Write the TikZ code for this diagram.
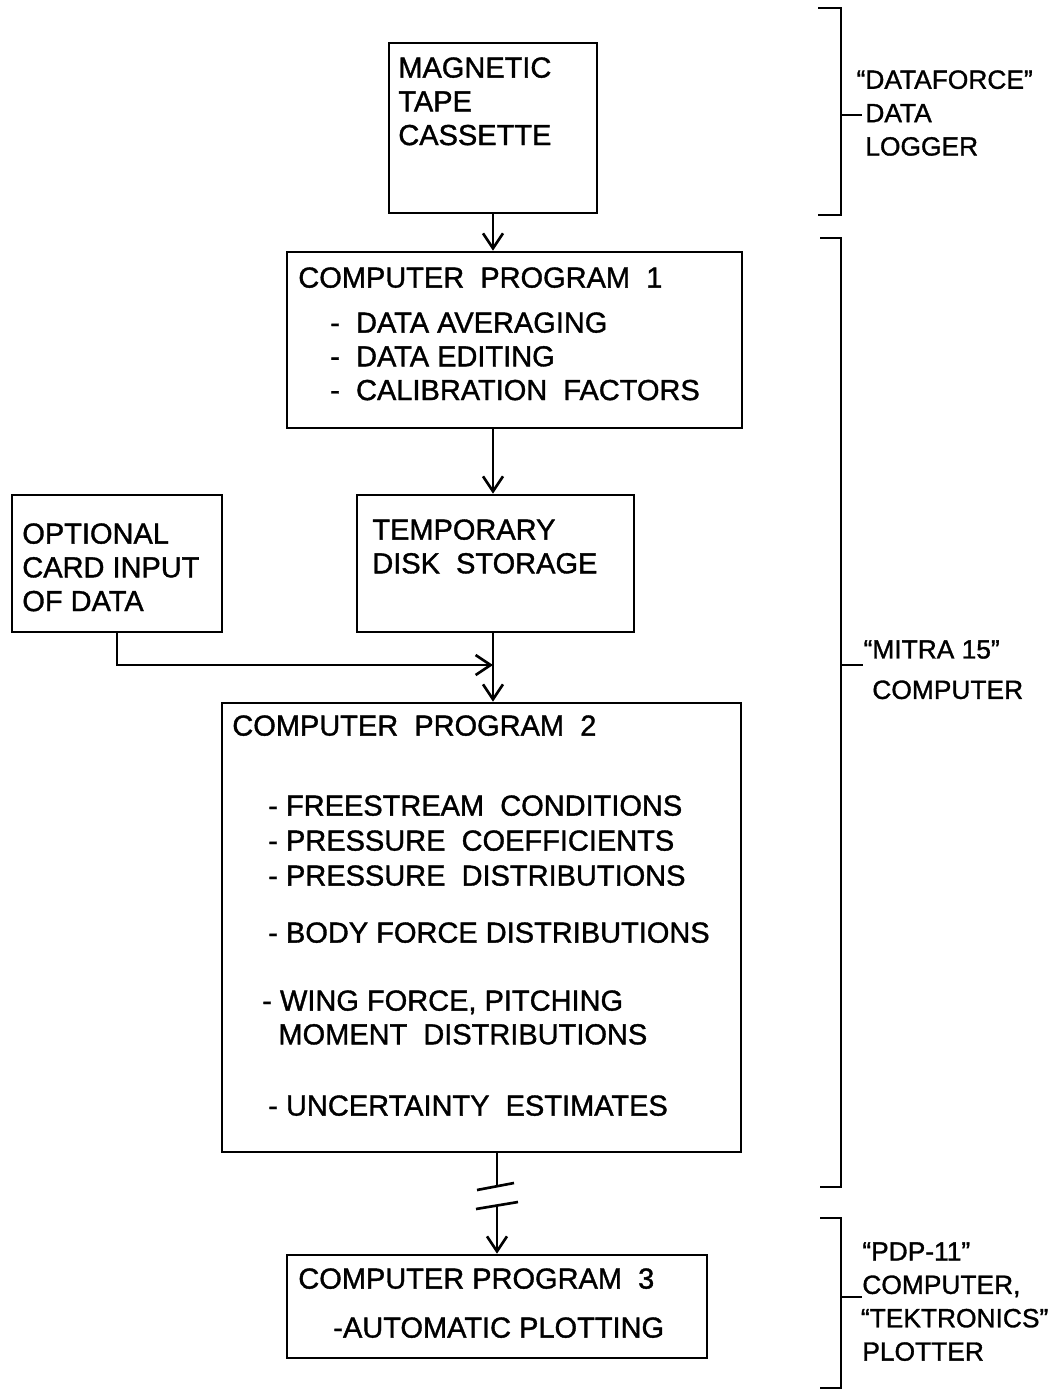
\documentclass[tikz,border=0pt]{standalone}
\usepackage{fontspec}
\setmainfont{Liberation Sans}[FakeBold=1.2]
\usetikzlibrary{arrows.meta}
\newcommand{\boxfont}{\fontsize{16.5}{19.2}\selectfont}
\newcommand{\sidefont}{\fontsize{15}{19}\selectfont}

\begin{document}
\begin{tikzpicture}[x=0.02cm, y=-0.02cm,
  box/.style={draw, line width=1.5pt, inner sep=0pt},
  txt/.style={anchor=north west, inner sep=0pt, align=left, font=\boxfont},
  side/.style={anchor=north west, inner sep=0pt, align=left, font=\sidefont},
  arr/.style={line width=1.5pt, -{Straight Barb[length=3mm, width=4mm]}},
  ln/.style={line width=1.5pt},
  brkt/.style={line width=1.5pt}]
  \useasboundingbox (0,0) rectangle (1056,1390);

  \node[box, minimum width=4.16cm, minimum height=3.4cm] (tape) at (493,128) {};
  \node[box, minimum width=9.1cm, minimum height=3.52cm] (cpone) at (514.5,340) {};
  \node[box, minimum width=5.54cm, minimum height=2.74cm] (disk) at (495.5,563.5) {};
  \node[box, minimum width=4.2cm, minimum height=2.74cm] (card) at (117,563.5) {};
  \node[box, minimum width=10.38cm, minimum height=8.98cm] (cptwo) at (481.5,927.5) {};
  \node[box, minimum width=8.4cm, minimum height=2.06cm] (cpthree) at (497,1306.5) {};

  \node[txt] (tapetxt) at (398,57) {MAGNETIC\\TAPE\\CASSETTE};
  \node[txt] (cponetitle) at (298,267) {COMPUTER\ \ PROGRAM\ \ 1};
  \node[txt] (cponeitems) at (330,312) {-\ \ DATA AVERAGING\\-\ \ DATA EDITING\\-\ \ CALIBRATION\ \ FACTORS};
  \node[txt] (disktxt) at (372,519) {TEMPORARY\\DISK\ \ STORAGE};
  \node[txt] (cardtxt) at (22,523) {OPTIONAL\\CARD INPUT\\OF DATA};

  \node[txt] (cptwotitle) at (232,715) {COMPUTER\ \ PROGRAM\ \ 2};
  \node[txt] (free) at (268,795) {-\ FREESTREAM\ \ CONDITIONS};
  \node[txt] (coef) at (268,830) {-\ PRESSURE\ \ COEFFICIENTS};
  \node[txt] (dist) at (268,865) {-\ PRESSURE\ \ DISTRIBUTIONS};
  \node[txt] (body) at (268,922) {-\ BODY FORCE DISTRIBUTIONS};
  \node[txt] (wing) at (262,990) {-\ WING FORCE, PITCHING\\\ \ MOMENT\ \ DISTRIBUTIONS};
  \node[txt] (unc) at (268,1095) {-\ UNCERTAINTY\ \ ESTIMATES};

  \node[txt] (cpthreetitle) at (298,1268) {COMPUTER PROGRAM\ \ 3};
  \node[txt] (plot) at (333,1317) {-AUTOMATIC PLOTTING};

  \node[side] (logger) at (865,70) {\llap{``}DATAFORCE''\\DATA\\LOGGER};
  \node[side] (mitra) at (872,640) {\llap{``}MITRA 15''\\[4pt]COMPUTER};
  \node[side] (pdp) at (862,1242) {``PDP-11''\\COMPUTER,\\\ \llap{``}TEKTRONICS''\\PLOTTER};

  \coordinate (join) at (493,665);
  \coordinate (cuttop) at (497,1187);
  \coordinate (cutbot) at (497,1206);

  \draw[arr] (tape.south) -- (tape.south |- cpone.north);
  \draw[arr] (cpone.south -| tape.south) -- (tape.south |- disk.north);
  \draw[ln] (disk.south -| join) -- (join);
  \draw[arr] (card.south) |- (join);
  \draw[arr] (join) -- (join |- cptwo.north);
  \draw[ln] (cptwo.south -| cuttop) -- (cuttop);
  \draw[ln] (477,1190) -- (514,1183);
  \draw[ln] (476,1209) -- (518,1202);
  \draw[arr] (cutbot) -- (cpthree.north);

  \draw[brkt] (818,8) -- (841,8) -- (841,215) -- (818,215);
  \draw[brkt] (841,115) -- (862,115);
  \draw[brkt] (820,238) -- (841,238) -- (841,1187) -- (820,1187);
  \draw[brkt] (841,665) -- (863,665);
  \draw[brkt] (820,1218) -- (841,1218) -- (841,1388) -- (820,1388);
  \draw[brkt] (841,1297) -- (862,1297);
\end{tikzpicture}
\end{document}
